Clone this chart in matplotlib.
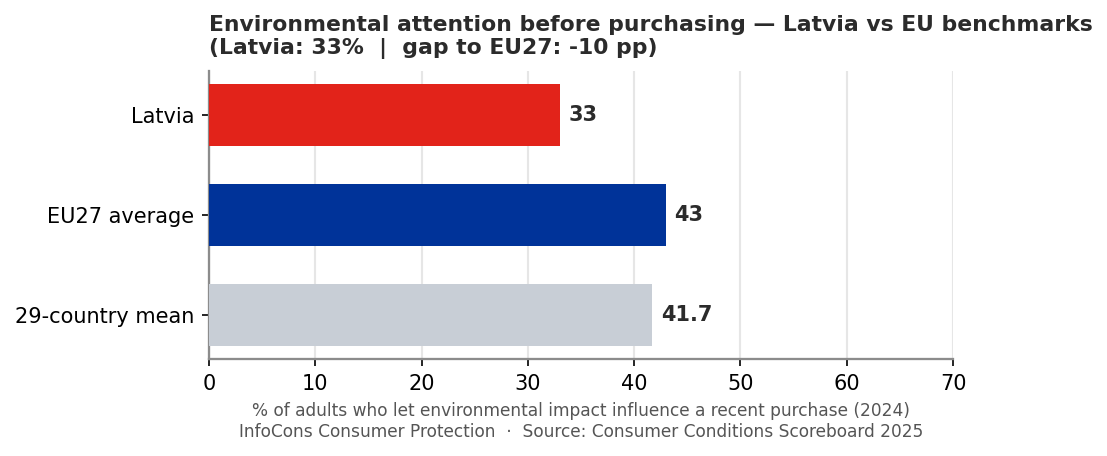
import matplotlib
matplotlib.use("Agg")
import matplotlib.pyplot as plt

categories = ["Latvia", "EU27 average", "29-country mean"]
values = [33, 43, 41.7]
value_labels = ["33", "43", "41.7"]
colors = ["#E2231A", "#003399", "#C8CED6"]
xticks = [0, 10, 20, 30, 40, 50, 60, 70]

fig = plt.figure(figsize=(1107/150, 456/150), dpi=150)
ax = fig.add_axes([209/1107, 97/456, (953-209)/1107, (359-71)/456])

ypos = list(range(len(categories)))
ax.barh(ypos, values, height=0.62, color=colors, zorder=3)
ax.set_yticks(ypos)
ax.set_yticklabels(categories, fontsize=10)
ax.invert_yaxis()
ax.set_xlim(0, 70)
ax.set_xticks(xticks)
ax.tick_params(axis="x", labelsize=10)
ax.grid(axis="x", color="#E6E6E6", linewidth=1, zorder=0)
ax.set_axisbelow(True)
for s in ["top", "right"]:
    ax.spines[s].set_visible(False)
for s in ["left", "bottom"]:
    ax.spines[s].set_color("#8C8C8C")
    ax.spines[s].set_linewidth(1.1)

for y, v, lab in zip(ypos, values, value_labels):
    ax.text(v + 0.8, y, lab, va="center", ha="left", fontsize=10,
            fontweight="bold", color="#2B2B2B")

ax.set_title("Environmental attention before purchasing — Latvia vs EU benchmarks\n"
             "(Latvia: 33%  |  gap to EU27: -10 pp)",
             loc="left", fontsize=10.5, fontweight="bold", color="#2B2B2B",
             pad=8, linespacing=1.2)
ax.set_xlabel("% of adults who let environmental impact influence a recent purchase (2024)\n"
              "InfoCons Consumer Protection  ·  Source: Consumer Conditions Scoreboard 2025",
              fontsize=8.2, color="#555555", labelpad=4)

fig.savefig("out.png", dpi=150, facecolor="white")
